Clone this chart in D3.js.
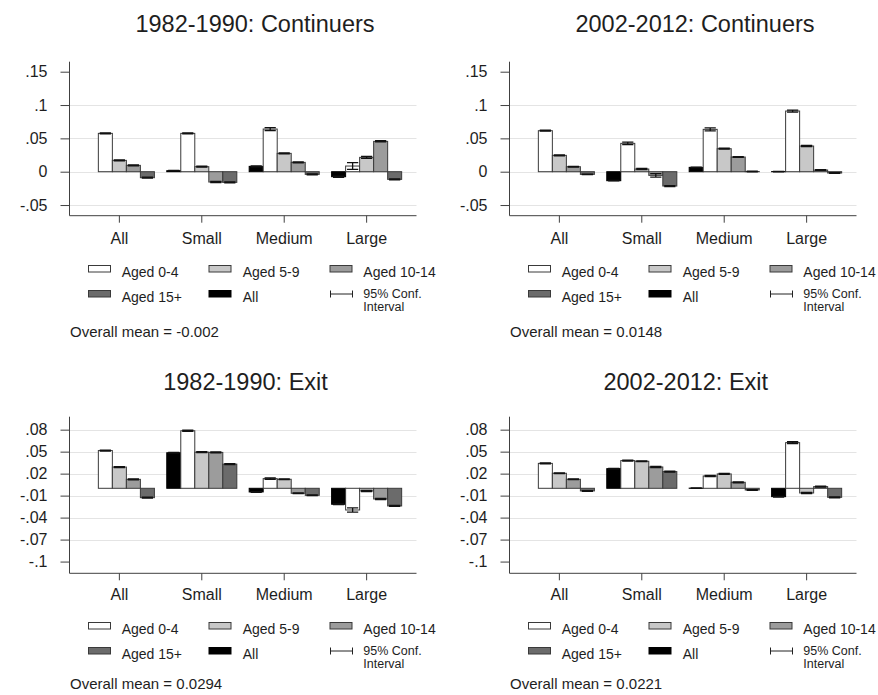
<!DOCTYPE html>
<html><head><meta charset="utf-8">
<script src="https://cdn.jsdelivr.net/npm/d3@7"></script>
<style>
body{margin:0;background:#fff;}
text{font-family:"Liberation Sans",Arial,sans-serif;fill:#1e1e1e;}
</style></head>
<body><svg id="c" width="878" height="695"></svg>
<script>
// ---- data ----
const categories = ["All", "Small", "Medium", "Large"];
const seriesNames = ["All", "Aged 0-4", "Aged 5-9", "Aged 10-14", "Aged 15+"];
const panelTitles = ["1982-1990: Continuers", "2002-2012: Continuers", "1982-1990: Exit", "2002-2012: Exit"];
const overallMeans = ["-0.002", "0.0148", "0.0294", "0.0221"];
const contTicks = [0.15, 0.1, 0.05, 0, -0.05];
const contTickLabels = [".15", ".1", ".05", "0", "-.05"];
const exitTicks = [0.08, 0.05, 0.02, -0.01, -0.04, -0.07, -0.1];
const exitTickLabels = [".08", ".05", ".02", "-.01", "-.04", "-.07", "-.1"];

// values per category: [All, Aged 0-4, Aged 5-9, Aged 10-14, Aged 15+]
const cont1982 = [
  [null, 0.0575, 0.017, 0.0095, -0.009],
  [0.0015, 0.0575, 0.0075, -0.0155, -0.016],
  [0.008, 0.064, 0.0275, 0.014, -0.004],
  [-0.0075, 0.0085, 0.0215, 0.0455, -0.0115]
];
const cont2002 = [
  [null, 0.0615, 0.0245, 0.0075, -0.004],
  [-0.0135, 0.0425, 0.004, -0.0055, -0.0215],
  [0.0065, 0.0635, 0.0345, 0.022, 0.0003],
  [0.0002, 0.091, 0.0385, 0.0025, -0.002]
];
const exit1982 = [
  [null, 0.0515, 0.029, 0.0122, -0.0128],
  [0.0485, 0.0785, 0.0493, 0.049, 0.033],
  [-0.005, 0.0132, 0.0123, -0.0068, -0.0096],
  [-0.0218, -0.0296, -0.0036, -0.0146, -0.0241]
];
const exit2002 = [
  [null, 0.034, 0.0205, 0.0123, -0.0036],
  [0.0268, 0.0378, 0.0369, 0.0291, 0.0228],
  [0.0002, 0.0168, 0.0196, 0.0082, -0.0023],
  [-0.0114, 0.0623, -0.0064, 0.0023, -0.0123]
];
// 95% CI half-widths
const ciCont1982 = [
  [0, 0.0008, 0.0007, 0.0007, 0.0007],
  [0.0003, 0.0008, 0.0007, 0.0008, 0.0008],
  [0.0006, 0.0022, 0.0008, 0.0007, 0.0006],
  [0.0008, 0.005, 0.0015, 0.0009, 0.0007]
];
const ciCont2002 = [
  [0, 0.0007, 0.0006, 0.0006, 0.0005],
  [0.0004, 0.0018, 0.0008, 0.0025, 0.0007],
  [0.0004, 0.0022, 0.0007, 0.0006, 0.0004],
  [0.0003, 0.0015, 0.0009, 0.0006, 0.0005]
];
const ciExit1982 = [
  [0, 0.0007, 0.0006, 0.0006, 0.0006],
  [0.0005, 0.0008, 0.0007, 0.0008, 0.0007],
  [0.0005, 0.0009, 0.0006, 0.0006, 0.0005],
  [0.0006, 0.0028, 0.0008, 0.0007, 0.0006]
];
const ciExit2002 = [
  [0, 0.0007, 0.0006, 0.0006, 0.0005],
  [0.0005, 0.0007, 0.0006, 0.0007, 0.0006],
  [0.0003, 0.0007, 0.0007, 0.0006, 0.0005],
  [0.0005, 0.0012, 0.0007, 0.0006, 0.0006]
];

// ---- styles ----
const fills = ["#000000", "#ffffff", "#c8c8c8", "#9c9c9c", "#6b6b6b"];
const barStroke = "#3a3a3a";
const axisColor = "#404040";
const gridColor = "#e4e4e4";

const svg = d3.select("#c");

const panels = [
  {title: panelTitles[0], titleX: 255, data: cont1982, ci: ciCont1982, ticks: contTicks, tickLabels: contTickLabels, domain: [-0.066, 0.165], mean: overallMeans[0], dx: 0, top: 61.7, bottom: 215.7, titleY: 32, catY: 243.5, legY: 277, meanY: 337},
  {title: panelTitles[1], titleX: 695, data: cont2002, ci: ciCont2002, ticks: contTicks, tickLabels: contTickLabels, domain: [-0.066, 0.165], mean: overallMeans[1], dx: 440, top: 61.7, bottom: 215.7, titleY: 32, catY: 243.5, legY: 277, meanY: 337},
  {title: panelTitles[2], titleX: 245.5, data: exit1982, ci: ciExit1982, ticks: exitTicks, tickLabels: exitTickLabels, domain: [-0.116, 0.0977], mean: overallMeans[2], dx: 0, top: 416.7, bottom: 573.3, titleY: 390, catY: 600, legY: 634, meanY: 689},
  {title: panelTitles[3], titleX: 685.8, data: exit2002, ci: ciExit2002, ticks: exitTicks, tickLabels: exitTickLabels, domain: [-0.116, 0.0977], mean: overallMeans[3], dx: 440, top: 416.7, bottom: 573.3, titleY: 390, catY: 600, legY: 634, meanY: 689}
];

panels.forEach(p => {
  const g = svg.append("g").attr("transform", `translate(${p.dx},0)`);
  const left = 69.5, right = 416.5;
  const x0 = d3.scaleBand().domain(categories).range([left, right]).paddingInner(0.15).paddingOuter(0.18);
  const x1 = d3.scaleBand().domain(d3.range(seriesNames.length)).range([0, x0.bandwidth()]).padding(0);
  const y = d3.scaleLinear().domain(p.domain).range([p.bottom, p.top]);

  // title
  g.append("text").attr("x", p.titleX - p.dx).attr("y", p.titleY).attr("text-anchor", "middle")
    .style("font-size", "23.5px").text(p.title);

  // gridlines (skip outermost limits)
  const gridTicks = p.ticks.filter(t => Math.abs(t) < 0.149 && t > -0.099);
  g.append("g").selectAll("line").data(gridTicks).join("line")
    .attr("x1", left).attr("x2", right)
    .attr("y1", d => Math.round(y(d)) + 0.5).attr("y2", d => Math.round(y(d)) + 0.5)
    .attr("stroke", gridColor).attr("stroke-width", 1);

  // y axis
  const yAxis = d3.axisLeft(y).tickValues(p.ticks).tickSize(9).tickPadding(13)
    .tickFormat((d, i) => p.tickLabels[i]);
  const ya = g.append("g").attr("transform", `translate(${left},0)`).call(yAxis);
  ya.select(".domain").attr("d", `M0,${p.top}V${p.bottom}`).attr("stroke", axisColor);
  ya.selectAll(".tick line").attr("stroke", axisColor);
  ya.selectAll(".tick text").style("font-size", "16px").style("font-family", "Liberation Sans, Arial, sans-serif").attr("fill", "#1e1e1e");

  // x axis
  const xAxis = d3.axisBottom(x0).tickSize(7).tickPadding(0).tickFormat("");
  const xa = g.append("g").attr("transform", `translate(0,${p.bottom})`).call(xAxis);
  xa.select(".domain").attr("d", `M${left},0H${right}`).attr("stroke", axisColor);
  xa.selectAll(".tick line").attr("stroke", axisColor);
  g.append("g").selectAll("text").data(categories).join("text")
    .attr("x", d => x0(d) + x0.bandwidth() / 2).attr("y", p.catY).attr("text-anchor", "middle")
    .style("font-size", "16px").text(d => d);

  // bars
  const flat = [];
  p.data.forEach((row, ci) => row.forEach((v, si) => {
    if (v !== null) flat.push({cat: categories[ci], s: si, v: v, e: p.ci[ci][si]});
  }));
  g.append("g").selectAll("rect").data(flat).join("rect")
    .attr("x", d => x0(d.cat) + x1(d.s))
    .attr("width", x1.bandwidth())
    .attr("y", d => Math.min(y(d.v), y(0)))
    .attr("height", d => Math.abs(y(d.v) - y(0)))
    .attr("fill", d => fills[d.s])
    .attr("stroke", d => d.s === 0 ? "#000" : barStroke).attr("stroke-width", 1);

  // confidence intervals
  const ciG = g.append("g").attr("stroke", "#111").attr("stroke-width", 1.3).attr("fill", "none");
  const capW = x1.bandwidth() * 0.8;
  flat.filter(d => d.e > 0).forEach(d => {
    const cx = x0(d.cat) + x1(d.s) + x1.bandwidth() / 2;
    const lo = y(d.v - d.e), hi = y(d.v + d.e);
    ciG.append("path").attr("d",
      `M${cx},${lo}V${hi}M${cx - capW / 2},${hi}H${cx + capW / 2}M${cx - capW / 2},${lo}H${cx + capW / 2}`);
  });

  // legend
  const legCols = [88.5, 209, 330];
  const legText = [121.7, 242.7, 363.3];
  const legItems = [
    {s: 1, col: 0, row: 0}, {s: 2, col: 1, row: 0}, {s: 3, col: 2, row: 0},
    {s: 4, col: 0, row: 1}, {s: 0, col: 1, row: 1}
  ];
  const rowGap = 25;
  const lg = g.append("g");
  legItems.forEach(it => {
    const by = p.legY + it.row * rowGap;
    lg.append("rect").attr("x", legCols[it.col]).attr("y", by - 11.5).attr("width", 22).attr("height", 6.5)
      .attr("fill", fills[it.s]).attr("stroke", it.s === 0 ? "#000" : barStroke).attr("stroke-width", 1);
    lg.append("text").attr("x", legText[it.col]).attr("y", by).style("font-size", "14px").text(seriesNames[it.s]);
  });
  // CI legend key
  const cy = p.legY + rowGap - 8;
  lg.append("path").attr("d", `M330.5,${cy - 3.5}V${cy + 3.5}M330.5,${cy}H352.5M352.5,${cy - 3.5}V${cy + 3.5}`)
    .attr("stroke", "#222").attr("stroke-width", 1).attr("fill", "none");
  lg.append("text").attr("x", 363.3).attr("y", p.legY + rowGap - 4).style("font-size", "12.5px").text("95% Conf.");
  lg.append("text").attr("x", 363.3).attr("y", p.legY + rowGap + 8.5).style("font-size", "12.5px").text("Interval");

  // overall mean
  g.append("text").attr("x", 70).attr("y", p.meanY).style("font-size", "15px").text("Overall mean = " + p.mean);
});
</script></body></html>
